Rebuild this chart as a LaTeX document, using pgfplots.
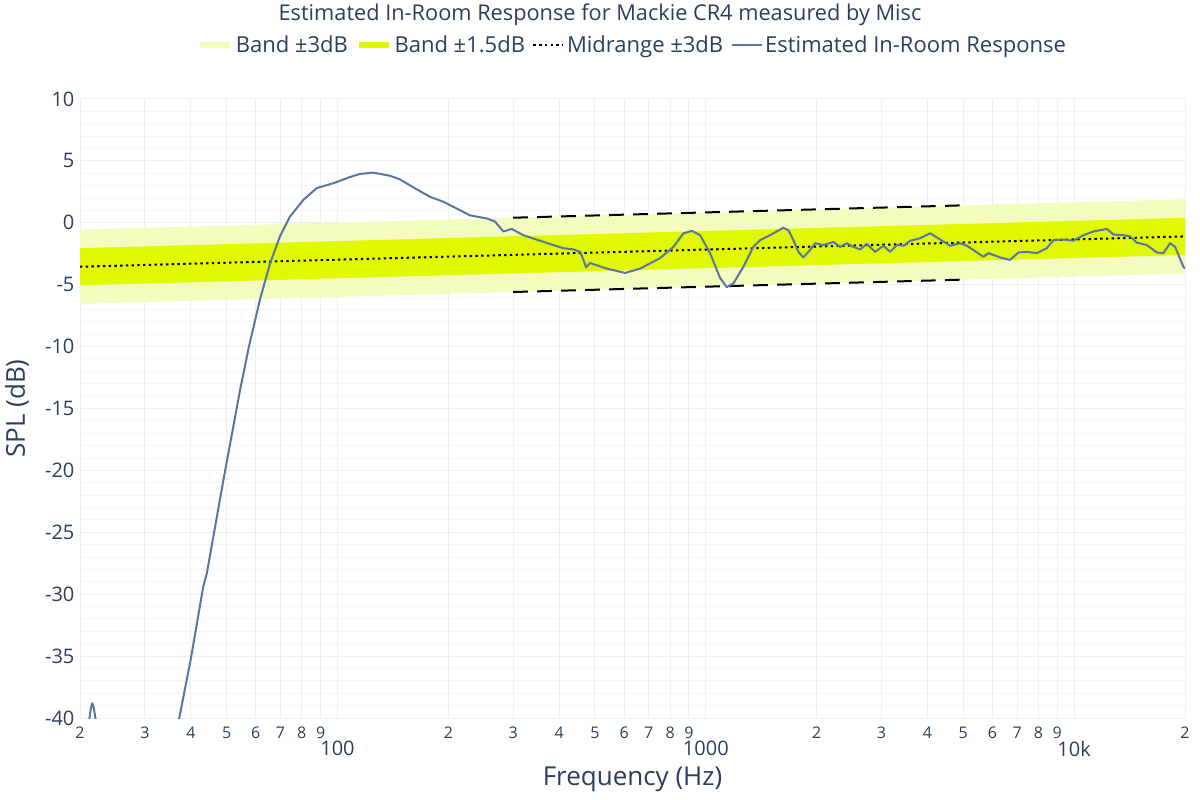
\documentclass[border=0pt]{standalone}
\usepackage{fontspec}
\setmainfont{Open Sans}
\usepackage{pgfplots}
\pgfplotsset{compat=1.18}
\definecolor{txt}{RGB}{42,63,95}
\definecolor{gridc}{RGB}{235,240,248}
\definecolor{gridm}{RGB}{244,246,251}
\definecolor{bandlight}{RGB}{243,251,190}
\definecolor{banddark}{RGB}{224,248,0}
\definecolor{resp}{RGB}{88,118,164}
\begin{document}
\begin{tikzpicture}
\useasboundingbox (-60pt,-61.5pt) rectangle (840pt,538.5pt);
\begin{axis}[
  scale only axis, width=828.75pt, height=464.25pt,
  xmode=log, xmin=20, xmax=20000, ymin=-40, ymax=10,
  axis line style={draw=none}, tick style={draw=none},
  ytick={-40,-35,...,10},
  yticklabels={-40,-35,-30,-25,-20,-15,-10,-5,0,5,10},
  minor y tick num=4,
  ymajorgrids, yminorgrids, xmajorgrids,
  major grid style={gridc, line width=0.75pt},
  minor grid style={gridm, line width=0.75pt},
  yticklabel style={font=\fontsize{15}{15}\selectfont, text=txt, anchor=east, inner sep=0pt, xshift=-4pt},
  xtick={20,30,40,50,60,70,80,90,200,300,400,500,600,700,800,900,2000,3000,4000,5000,6000,7000,8000,9000,20000},
  xticklabels={2,3,4,5,6,7,8,9,2,3,4,5,6,7,8,9,2,3,4,5,6,7,8,9,2},
  xticklabel style={font=\fontsize{12}{12}\selectfont, text=txt, anchor=north, inner sep=0pt, yshift=-6.5pt},
  extra x ticks={100,1000,10000},
  extra x tick labels={100,1000,10k},
  extra x tick style={xticklabel style={font=\fontsize{15}{15}\selectfont, yshift=-10.5pt}},
  xlabel={Frequency (Hz)},
  xlabel style={at={(rel axis cs:0.5,-0.0985)}, anchor=center, font=\fontsize{19.5}{19.5}\selectfont, text=txt},
  ylabel={SPL (dB)},
  ylabel style={at={(rel axis cs:-0.057,0.5)}, anchor=center, font=\fontsize{19.5}{19.5}\selectfont, text=txt},
  title={Estimated In-Room Response for Mackie CR4 measured by Misc},
  every axis title/.style={at={(rel axis cs:0.4706,1.1357)}, anchor=center, font=\fontsize{16.3}{16.3}\selectfont, text=txt},
  legend style={at={(0.5,1.0872)}, anchor=center, draw=none, fill=none,
    font=\fontsize{16.5}{16.5}\selectfont, text=txt, legend columns=4,
    /tikz/every even column/.append style={column sep=3.5pt}},
  legend cell align=left,
]
\addplot[fill=bandlight, draw=none, forget plot] coordinates {(20,-0.55) (20000,1.9) (20000,-4.1) (20,-6.55)} -- cycle;
\addplot[fill=banddark, draw=none, forget plot] coordinates {(20,-2.05) (20000,0.4) (20000,-2.6) (20,-5.05)} -- cycle;
\addplot[black, line width=1.5pt, dash pattern=on 1.8pt off 2.5pt, forget plot] coordinates {(20,-3.55) (20000,-1.1)};
\addplot[black, line width=1.5pt, dash pattern=on 11pt off 7pt, forget plot] coordinates {(300,0.41) (5000,1.41)};
\addplot[black, line width=1.5pt, dash pattern=on 11pt off 7pt, forget plot] coordinates {(300,-5.59) (5000,-4.59)};
\addplot[resp, line width=1.5pt, line join=round, forget plot] coordinates {
(20.3,-47) (20.8,-42.5) (21.2,-40.1) (21.4,-39.2) (21.6,-38.8) (21.8,-39.2) (22.05,-40.1) (22.6,-44) (24,-50) (30,-55) (34,-47)
(37.2,-40.0) (40,-35.2) (43.2,-29.4) (44.2,-28.3) (49.0,-20.8) (54.4,-13.5) (57.5,-10.0) (61.6,-6.2) (65.6,-3.3) (69.8,-1.1)
(74.3,0.5) (80.8,1.85) (87.8,2.8) (97.5,3.2) (108.2,3.7) (115.2,3.95) (125.1,4.05) (138.9,3.8) (147.9,3.5) (164.2,2.7)
(178.4,2.1) (193.8,1.7) (210.8,1.15) (229.1,0.6) (254.3,0.35) (267.8,0.1) (282.0,-0.7) (297.3,-0.5) (319.6,-1.0) (354.9,-1.45)
(385.7,-1.8) (410.5,-2.05) (437.0,-2.15) (455.8,-2.35) (465.3,-3.0) (473.3,-3.6) (485.1,-3.25) (538.4,-3.7) (603.9,-4.05)
(663.2,-3.7) (751.4,-2.85) (816.6,-1.95) (869.5,-0.85) (916.2,-0.65) (965,-1.0) (1027,-2.45) (1093,-4.45) (1140,-5.2)
(1188,-4.9) (1265,-3.55) (1346,-1.95) (1404,-1.4) (1495,-1.0) (1624,-0.4) (1676,-0.6) (1729,-1.4) (1784,-2.35) (1840,-2.8)
(1919,-2.2) (1980,-1.65) (2086,-1.8) (2220,-1.55) (2315,-1.95) (2414,-1.65) (2516,-1.95) (2624,-2.15) (2736,-1.7) (2882,-2.35)
(3036,-1.85) (3166,-2.35) (3302,-1.8) (3441,-1.85) (3588,-1.45) (3818,-1.25) (4064,-0.85) (4327,-1.35) (4605,-1.85) (4902,-1.65)
(5113,-1.85) (5329,-2.2) (5672,-2.75) (5852,-2.45) (6038,-2.6) (6296,-2.8) (6700,-3.0) (7060,-2.4) (7440,-2.35) (7920,-2.45)
(8430,-2.05) (8786,-1.4) (9354,-1.35) (9954,-1.45) (10600,-1.0) (11280,-0.7) (11764,-0.6) (12268,-0.5) (12786,-0.95) (13612,-1.0)
(14192,-1.1) (14798,-1.6) (15754,-1.8) (16766,-2.4) (17476,-2.45) (18218,-1.65) (18800,-1.95) (19798,-3.55) (20000,-3.7)
};
\addlegendimage{legend image code/.code={\draw[bandlight, line width=5pt] (0pt,0pt) -- (22.5pt,0pt);}}
\addlegendentry{Band ±3dB}
\addlegendimage{legend image code/.code={\draw[banddark, line width=5pt] (0pt,0pt) -- (22.5pt,0pt);}}
\addlegendentry{Band ±1.5dB}
\addlegendimage{legend image code/.code={\draw[black, line width=1.5pt, dash pattern=on 1.8pt off 2.5pt] (0pt,0pt) -- (22.5pt,0pt);}}
\addlegendentry{Midrange ±3dB}
\addlegendimage{legend image code/.code={\draw[resp, line width=1.5pt] (0pt,0pt) -- (22.5pt,0pt);}}
\addlegendentry{Estimated In-Room Response}
\end{axis}
\end{tikzpicture}
\end{document}
